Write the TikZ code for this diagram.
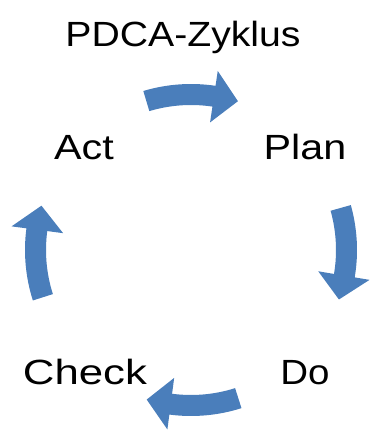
\documentclass[tikz,border=0pt]{standalone}
\usepackage{fontspec}
\setmainfont{Liberation Sans}
\definecolor{cycleblue}{RGB}{74,126,187}
\tikzset{
  lbl/.style={anchor=base, inner sep=0pt, font=\fontsize{35}{40}\selectfont},
  cyclearrow/.style={fill=cycleblue, draw=none}
}
% widened label text
\newcommand{\widetext}[2]{\scalebox{#1}[1]{#2}}
% curved arrow around the centre: #1 = middle angle of the arrow
\newcommand{\cyclearrowat}[1]{%
  \pgfmathsetmacro{\ta}{#1+16.7}%
  \pgfmathsetmacro{\ba}{#1-8.5}%
  \pgfmathsetmacro{\pa}{#1-17.5}%
  \fill[cyclearrow] (\ta:166) arc[start angle=\ta, end angle=\ba, radius=166]
    -- (\ba:181) -- (\pa:156) -- (\ba:129)
    -- (\ba:145) arc[start angle=\ba, end angle=\ta, radius=145] -- cycle;
}
\begin{document}
\begin{tikzpicture}[x=1pt, y=1pt]
  \path[use as bounding box] (0,0) rectangle (371,435);
  \node[lbl] (title) at (183,388) {\widetext{1.12}{PDCA-Zyklus}};
  \node[lbl] (plan) at (305,275) {\widetext{1.18}{Plan}};
  \node[lbl] (act) at (84,275) {\widetext{1.18}{Act}};
  \node[lbl] (do) at (305,50) {\widetext{1.1}{Do}};
  \node[lbl] (check) at (85,50) {\widetext{1.25}{Check}};
  \begin{scope}[shift={(191,185)}]
    \cyclearrowat{90}
    \cyclearrowat{-1}
    \cyclearrowat{-89}
    \cyclearrowat{181}
  \end{scope}
\end{tikzpicture}
\end{document}
